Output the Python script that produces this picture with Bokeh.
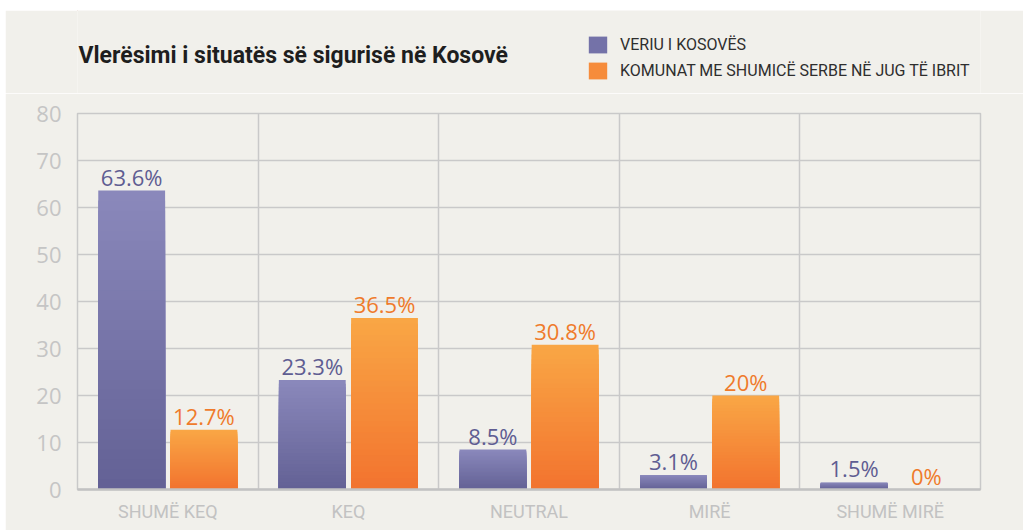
from bokeh.plotting import figure
from bokeh.layouts import column
from bokeh.models import (Range1d, FixedTicker, ColumnDataSource, Label, Legend, LegendItem)
from bokeh.core.properties import value
from bokeh.embed import file_html
from bokeh.resources import INLINE

categories = ["SHUMË KEQ", "KEQ", "NEUTRAL", "MIRË", "SHUMË MIRË"]
series_names = ["VERIU I KOSOVËS", "KOMUNAT ME SHUMICË SERBE NË JUG TË IBRIT"]
north = [63.6, 23.3, 8.5, 3.1, 1.5]
south = [12.7, 36.5, 30.8, 20.0, 0.0]
north_labels = ["63.6%", "23.3%", "8.5%", "3.1%", "1.5%"]
south_labels = ["12.7%", "36.5%", "30.8%", "20%", "0%"]
y_ticks = [0, 10, 20, 30, 40, 50, 60, 70, 80]
title_text = "Vlerësimi i situatës së sigurisë në Kosovë"

BG = "#f1f0eb"
GRID = "#c9c9c9"
PURPLE_TOP, PURPLE_BOT = (138, 136, 187), (98, 96, 148)
ORANGE_TOP, ORANGE_BOT = (249, 166, 69), (242, 114, 46)
PURPLE_TXT = "#5f5d92"
ORANGE_TXT = "#ef7b2b"
COND = "Roboto"

BL, BR = 72, 43  # left/right borders shared by both stacked figures

# ---------- header (title + legend) ----------
head = figure(width=1018, height=83, output_backend="svg", toolbar_location=None,
              x_range=Range1d(77, 980), y_range=Range1d(93, 10),
              min_border_left=BL, min_border_right=BR, min_border_top=0, min_border_bottom=0,
              x_axis_location=None, y_axis_location=None)
head.background_fill_color = BG
head.border_fill_color = BG
head.outline_line_color = None
head.grid.visible = False

head.add_layout(Label(x=78, y=55, text=title_text, text_font=COND, text_font_style="bold",
                      text_font_size="23px", text_color="#1e1e1e", text_baseline="alphabetic"))

d1 = head.vbar(x=[-1000], top=[0], width=1, fill_color="#7472a8", line_color=None)
d2 = head.vbar(x=[-1000], top=[0], width=1, fill_color="#f68c3b", line_color=None)
legend = Legend(items=[LegendItem(label=series_names[0], renderers=[d1]),
                       LegendItem(label=series_names[1], renderers=[d2])],
                location=(509, 12), orientation="vertical",
                glyph_width=23, glyph_height=21, label_standoff=11, spacing=5,
                padding=0, margin=0, border_line_color=None, background_fill_alpha=0,
                label_text_font=COND, label_text_font_size="16px",
                label_text_color="#2e2e2e", label_height=21, label_text_baseline="middle")
head.add_layout(legend, "center")

# ---------- main chart ----------
p = figure(width=1018, height=437, output_backend="svg", toolbar_location=None,
           x_range=Range1d(0, 5), y_range=Range1d(0, 80),
           min_border_left=BL, min_border_right=BR, min_border_top=20, min_border_bottom=41)
p.background_fill_color = BG
p.border_fill_color = BG
p.outline_line_color = GRID
p.outline_line_width = 1.5

p.ygrid.ticker = FixedTicker(ticks=y_ticks)
p.ygrid.grid_line_color = GRID
p.ygrid.grid_line_width = 1.5
p.xgrid.ticker = FixedTicker(ticks=list(range(1, len(categories))))
p.xgrid.grid_line_color = GRID
p.xgrid.grid_line_width = 1.5

p.yaxis.ticker = FixedTicker(ticks=y_ticks)
p.yaxis.axis_line_color = None
p.yaxis.major_tick_line_color = None
p.yaxis.minor_tick_line_color = None
p.yaxis.major_label_text_font = "Open Sans"
p.yaxis.major_label_text_font_size = "22px"
p.yaxis.major_label_text_color = "#c5c5c5"
p.yaxis.major_label_standoff = 10

xt = [i + 0.5 for i in range(len(categories))]
p.xaxis.ticker = FixedTicker(ticks=xt)
p.xaxis.major_label_overrides = {t: c for t, c in zip(xt, categories)}
p.xaxis.axis_line_color = "#c2c2c2"
p.xaxis.axis_line_width = 2.5
p.xaxis.major_tick_line_color = None
p.xaxis.minor_tick_line_color = None
p.xaxis.major_label_text_font = COND
p.xaxis.major_label_text_font_size = "18px"
p.xaxis.major_label_text_color = "#c2c2c2"
p.xaxis.major_label_standoff = 5

N = 30
BW = 0.37

def mix(c1, c2, t):
    return "#%02x%02x%02x" % tuple(int(round(a + (b - a) * t)) for a, b in zip(c1, c2))

def gradient_bars(values, offset, top_c, bot_c):
    xs, tops, colors = [], [], []
    for k in range(N):
        f = 1 - k / N
        for i, v in enumerate(values):
            xs.append(i + offset)
            tops.append(v * f)
            colors.append(mix(bot_c, top_c, f))
    src = ColumnDataSource(dict(x=xs, top=tops, color=colors))
    return p.vbar(x="x", top="top", bottom=0, width=BW, fill_color="color", line_color=None, source=src)

gradient_bars(north, 0.3, PURPLE_TOP, PURPLE_BOT)
gradient_bars(south, 0.7, ORANGE_TOP, ORANGE_BOT)

lab_src1 = ColumnDataSource(dict(x=[i + 0.3 for i in range(5)], y=north, t=north_labels))
lab_src2 = ColumnDataSource(dict(x=[i + 0.7 for i in range(5)], y=south, t=south_labels))
for src, col in ((lab_src1, PURPLE_TXT), (lab_src2, ORANGE_TXT)):
    p.text(x="x", y="y", text="t", source=src, text_align="center", text_baseline="bottom",
           y_offset=1, text_font=value("Open Sans"), text_font_size="22px", text_color=col)

layout = column(head, p, margin=(10, 0, 0, 5))
open("out.html", "w").write(file_html(layout, INLINE))
